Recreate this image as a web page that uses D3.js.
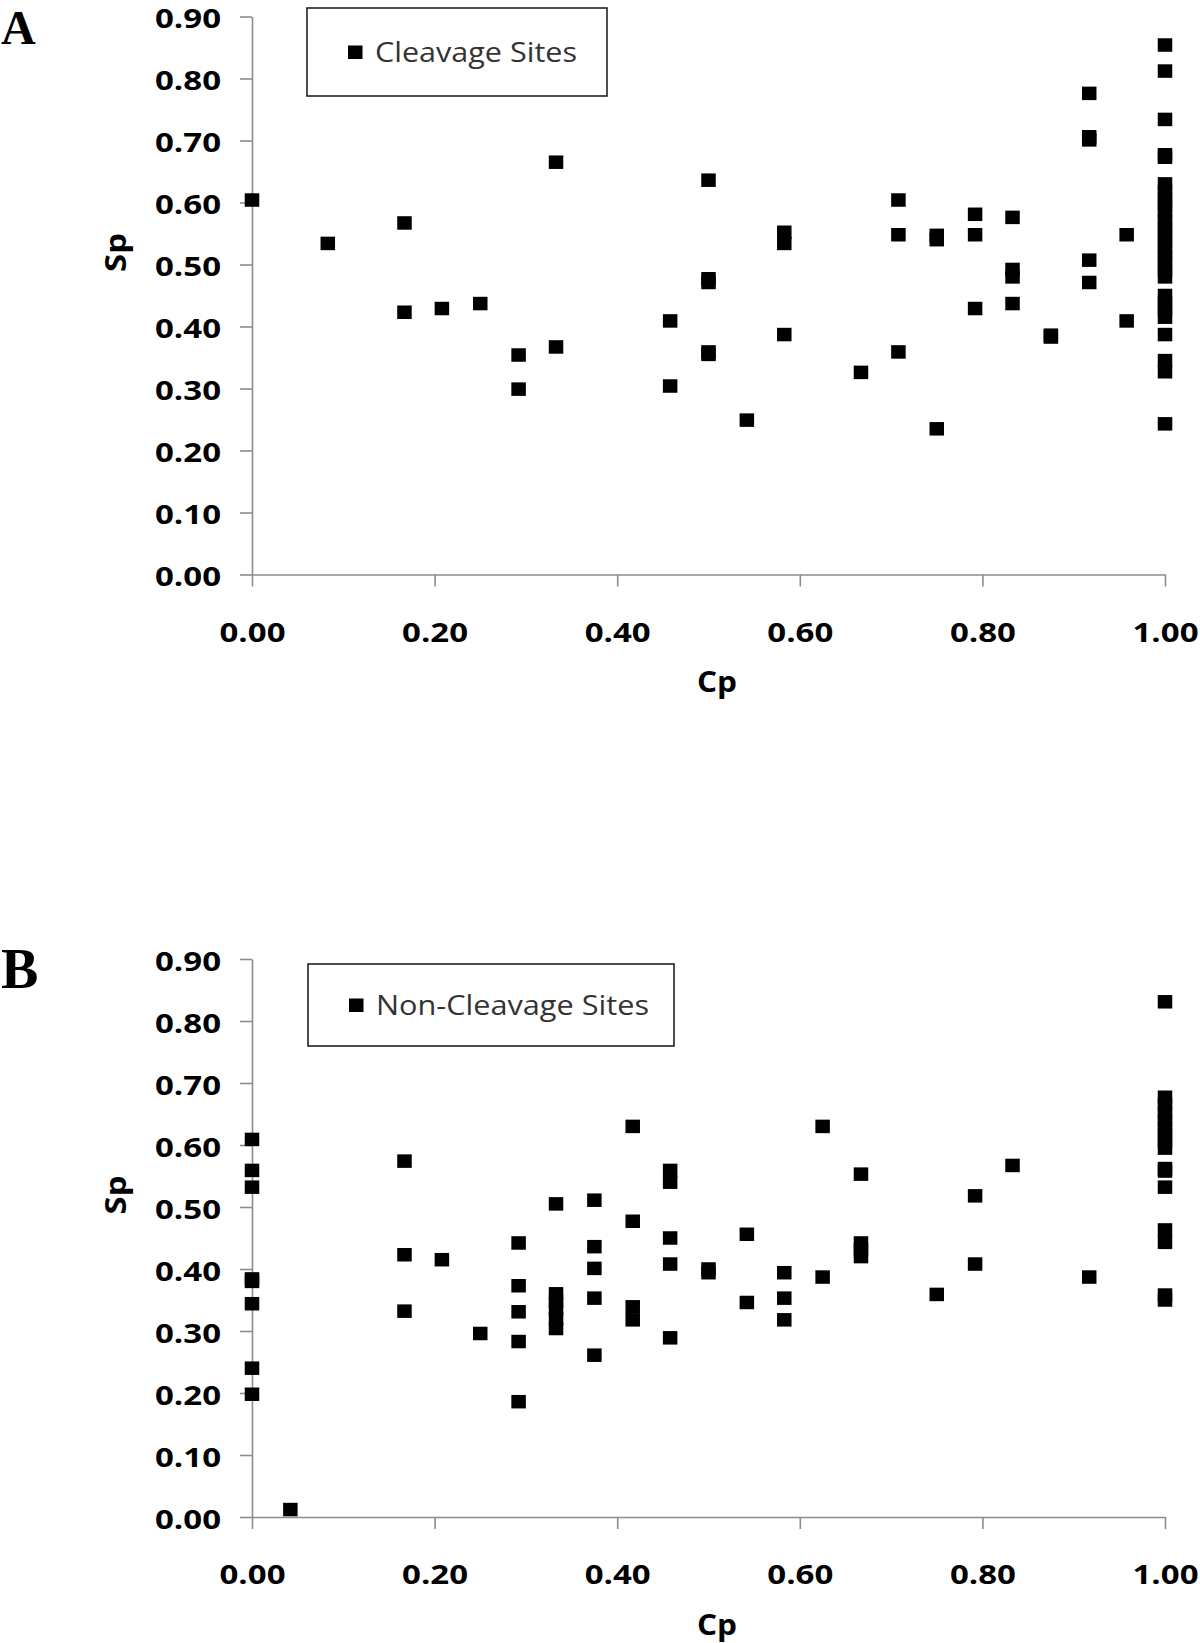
<!DOCTYPE html>
<html>
<head>
<meta charset="utf-8">
<script src="https://cdn.jsdelivr.net/npm/d3@7"></script>
<style>
  html, body { margin: 0; padding: 0; background: #fff; }
  svg { display: block; }
</style>
</head>
<body>
<svg id="chart" width="1200" height="1643"></svg>
<script>
// ---------- Data ----------
const yTickValues = [0, 0.1, 0.2, 0.3, 0.4, 0.5, 0.6, 0.7, 0.8, 0.9];
const xTickValues = [0, 0.2, 0.4, 0.6, 0.8, 1.0];

// Panel A: Cleavage Sites
const cleavageCp = [
  0, 0.083, 0.167, 0.167, 0.208, 0.25, 0.292, 0.292, 0.333, 0.333,
  0.458, 0.458, 0.5, 0.5, 0.5, 0.5, 0.5, 0.542, 0.583, 0.583, 0.583,
  0.667, 0.708, 0.708, 0.708, 0.75, 0.75, 0.75, 0.792, 0.792, 0.792,
  0.833, 0.833, 0.833, 0.833, 0.875, 0.875,
  0.917, 0.917, 0.917, 0.917, 0.917, 0.958, 0.958,
  1, 1, 1, 1, 1, 1, 1, 1, 1, 1, 1, 1, 1, 1, 1, 1, 1, 1, 1,
  1, 1, 1, 1, 1, 1, 1, 1
];
const cleavageSp = [
  0.604, 0.534, 0.567, 0.423, 0.429, 0.437, 0.354, 0.299, 0.665, 0.367,
  0.409, 0.304, 0.636, 0.477, 0.471, 0.359, 0.355, 0.249, 0.552, 0.534, 0.387,
  0.326, 0.604, 0.548, 0.359, 0.547, 0.540, 0.235, 0.581, 0.548, 0.429,
  0.576, 0.492, 0.480, 0.437, 0.386, 0.383,
  0.776, 0.706, 0.701, 0.507, 0.471, 0.548, 0.409,
  0.854, 0.812, 0.734, 0.677, 0.673, 0.630, 0.618, 0.605, 0.596, 0.584, 0.571, 0.560, 0.548, 0.537,
  0.525, 0.514, 0.503, 0.491, 0.480, 0.450, 0.438, 0.427, 0.415, 0.387, 0.345, 0.327, 0.243
];

// Panel B: Non-Cleavage Sites
const nonCleavageCp = [
  0, 0, 0, 0, 0, 0, 0, 0,
  0.042,
  0.167, 0.167, 0.167,
  0.208,
  0.25,
  0.292, 0.292, 0.292, 0.292, 0.292,
  0.333, 0.333, 0.333, 0.333, 0.333, 0.333,
  0.375, 0.375, 0.375, 0.375, 0.375,
  0.417, 0.417, 0.417, 0.417,
  0.458, 0.458, 0.458, 0.458, 0.458,
  0.5, 0.5,
  0.542, 0.542,
  0.583, 0.583, 0.583,
  0.625, 0.625,
  0.667, 0.667, 0.667, 0.667,
  0.75,
  0.792, 0.792,
  0.833,
  0.917,
  1, 1, 1, 1, 1, 1, 1, 1, 1, 1, 1, 1, 1, 1, 1, 1
];
const nonCleavageSp = [
  0.609, 0.559, 0.532, 0.384, 0.380, 0.344, 0.240, 0.198,
  0.012,
  0.574, 0.423, 0.332,
  0.415,
  0.296,
  0.442, 0.373, 0.331, 0.283, 0.186,
  0.505, 0.360, 0.348, 0.335, 0.320, 0.304,
  0.511, 0.436, 0.401, 0.353, 0.261,
  0.630, 0.477, 0.339, 0.318,
  0.559, 0.540, 0.450, 0.408, 0.289,
  0.400, 0.394,
  0.456, 0.346,
  0.394, 0.353, 0.318,
  0.630, 0.387,
  0.553, 0.442, 0.431, 0.420,
  0.359,
  0.518, 0.408,
  0.567,
  0.387,
  0.831, 0.677, 0.665, 0.652, 0.640, 0.628, 0.617, 0.606, 0.595,
  0.562, 0.558, 0.532, 0.463, 0.443, 0.358, 0.350
];

// ---------- Drawing ----------
const svg = d3.select("#chart");
const AXIS_COLOR = "#8c8c8c";
const TICK_FONT = "'Open Sans', 'DejaVu Sans', sans-serif";

function drawPanel(cfg) {
  const x = d3.scaleLinear().domain([0, 1]).range([252, 1165]);
  const y = d3.scaleLinear().domain([0, 0.9]).range([cfg.y0, cfg.y0 - 0.9 * 620]);
  const g = svg.append("g");

  // y axis
  const yAxis = g.append("g")
    .attr("transform", `translate(${x(0)},0)`)
    .call(d3.axisLeft(y).tickValues(yTickValues).tickFormat(d3.format(".2f"))
      .tickSize(12).tickSizeOuter(0).tickPadding(19));
  // x axis
  const xAxis = g.append("g")
    .attr("transform", `translate(0,${y(0)})`)
    .call(d3.axisBottom(x).tickValues(xTickValues).tickFormat(d3.format(".2f"))
      .tickSize(12).tickSizeOuter(0).tickPadding(36));

  [yAxis, xAxis].forEach(ax => {
    ax.select(".domain").attr("stroke", AXIS_COLOR).attr("stroke-width", 1.6);
    ax.selectAll(".tick line").attr("stroke", AXIS_COLOR).attr("stroke-width", 1.6);
    ax.selectAll(".tick text")
      .attr("fill", "#000")
      .style("font-family", TICK_FONT)
      .style("font-weight", 700)
      .style("font-size", "27px")
      .attr("textLength", 66)
      .attr("lengthAdjust", "spacingAndGlyphs");
  });
  yAxis.selectAll(".tick text").attr("dy", "0.42em");
  xAxis.selectAll(".tick text").attr("dy", "0.71em");

  // axis titles
  g.append("text")
    .attr("x", 717).attr("y", y(0) + 117.5)
    .attr("text-anchor", "middle")
    .style("font-family", TICK_FONT).style("font-weight", 700).style("font-size", "28px")
    .attr("textLength", 40).attr("lengthAdjust", "spacingAndGlyphs")
    .text("Cp");
  g.append("text")
    .attr("transform", `translate(126,${y(0.9) + 236}) rotate(-90)`)
    .attr("text-anchor", "middle")
    .style("font-family", TICK_FONT).style("font-weight", 700).style("font-size", "29px")
    .attr("textLength", 39).attr("lengthAdjust", "spacingAndGlyphs")
    .text("Sp");

  // panel letter
  g.append("text")
    .attr("x", 1).attr("y", cfg.letterY)
    .style("font-family", "'Liberation Serif', 'Times New Roman', serif")
    .style("font-weight", 700).style("font-size", cfg.letterSize + "px")
    .text(cfg.letter);

  // points
  const pts = cfg.cp.map((c, i) => ({ cp: c, sp: cfg.sp[i] }));
  const w = 14.5, h = 13.5;
  g.append("g").selectAll("rect").data(pts).join("rect")
    .attr("x", d => x(d.cp) - w / 2)
    .attr("y", d => y(d.sp) - h / 2)
    .attr("width", w).attr("height", h)
    .attr("fill", "#000");

  // legend
  const L = cfg.legend;
  g.append("rect")
    .attr("x", L.x).attr("y", L.y).attr("width", L.w).attr("height", L.h)
    .attr("fill", "#fff").attr("stroke", "#222").attr("stroke-width", 1.6);
  g.append("rect")
    .attr("x", L.x + 41).attr("y", L.y + L.h / 2 - 6.5)
    .attr("width", 14.5).attr("height", 13.5).attr("fill", "#000");
  g.append("text")
    .attr("x", L.x + 68).attr("y", L.y + L.h / 2 + 9.5)
    .style("font-family", TICK_FONT).style("font-size", "27px")
    .attr("fill", "#333")
    .attr("textLength", L.tl).attr("lengthAdjust", "spacingAndGlyphs")
    .text(L.label);
}

drawPanel({
  y0: 574.5, letter: "A", letterY: 44, letterSize: 48,
  cp: cleavageCp, sp: cleavageSp,
  legend: { x: 307, y: 8, w: 300, h: 88, label: "Cleavage Sites", tl: 202 }
});
drawPanel({
  y0: 1517, letter: "B", letterY: 988, letterSize: 56,
  cp: nonCleavageCp, sp: nonCleavageSp,
  legend: { x: 308, y: 964, w: 366, h: 82, label: "Non-Cleavage Sites", tl: 273 }
});
</script>
</body>
</html>
